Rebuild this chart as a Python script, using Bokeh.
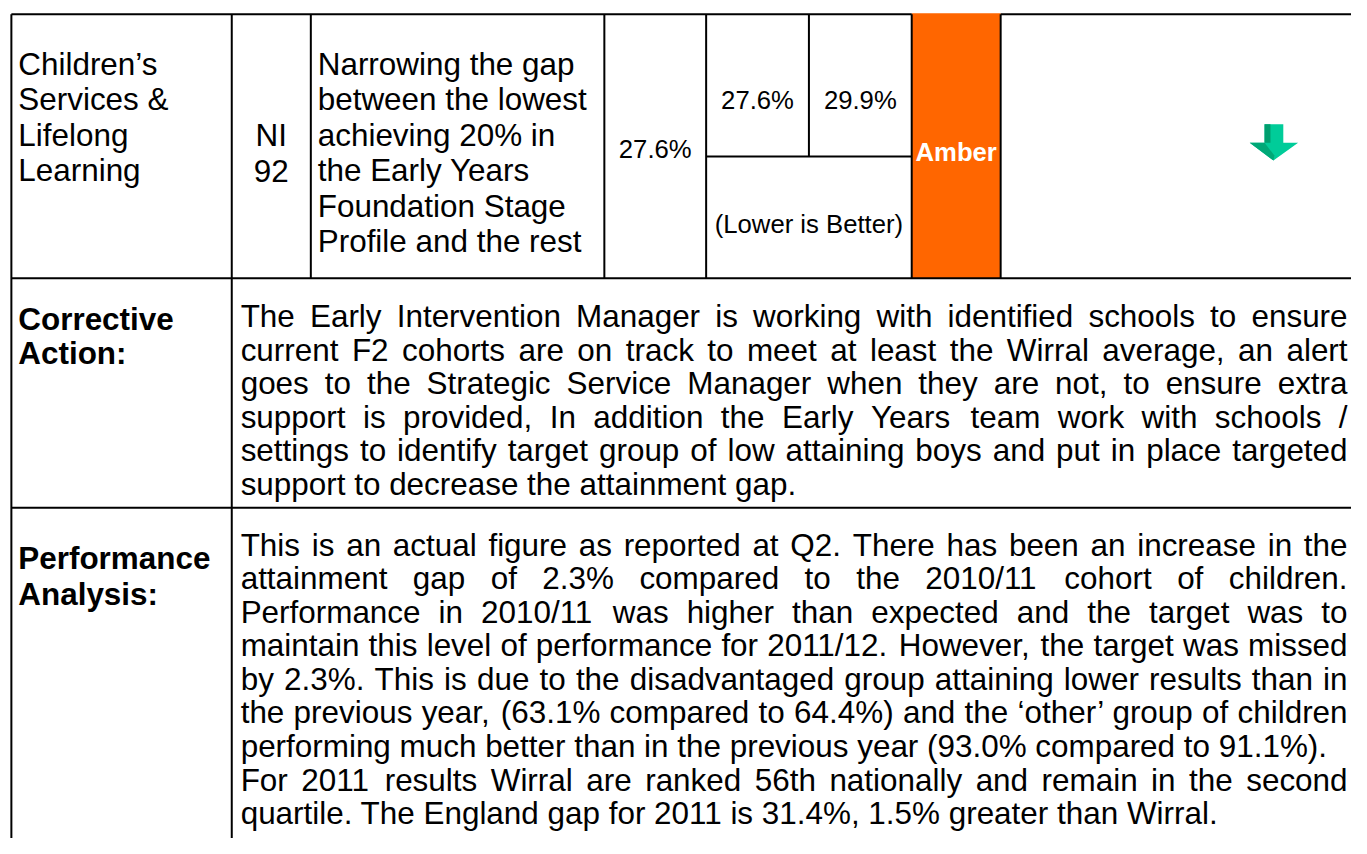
from bokeh.plotting import figure
from bokeh.models import ColumnDataSource, Range1d
from bokeh.core.properties import value
from bokeh.embed import file_html
from bokeh.resources import INLINE

# ---------------- data (table content) ----------------
service_lines = ["Children\u2019s", "Services &", "Lifelong", "Learning"]
indicator_lines = ["NI", "92"]
description_lines = ["Narrowing the gap", "between the lowest", "achieving 20% in",
                     "the Early Years", "Foundation Stage", "Profile and the rest"]
actual_value = "27.6%"
target_value = "27.6%"
previous_value = "29.9%"
polarity_text = "(Lower is Better)"
status_text = "Amber"

corrective_label = ["Corrective", "Action:"]
corrective_lines = [
    "The Early Intervention Manager is working with identified schools to ensure",
    "current F2 cohorts are on track to meet at least the Wirral average, an alert",
    "goes to the Strategic Service Manager when they are not, to ensure extra",
    "support is provided, In addition the Early Years team work with schools /",
    "settings to identify target group of low attaining boys and put in place targeted",
    "support to decrease the attainment gap.",
]
corrective_justified = [True, True, True, True, True, False]

analysis_label = ["Performance", "Analysis:"]
analysis_lines = [
    "This is an actual figure as reported at Q2. There has been an increase in the",
    "attainment gap of 2.3% compared to the 2010/11 cohort of children.",
    "Performance in 2010/11 was higher than expected and the target was to",
    "maintain this level of performance for 2011/12. However, the target was missed",
    "by 2.3%. This is due to the disadvantaged group attaining lower results than in",
    "the previous year, (63.1% compared to 64.4%) and the \u2018other\u2019 group of children",
    "performing much better than in the previous year (93.0% compared to 91.1%).",
    "For 2011 results Wirral are ranked 56th nationally and remain in the second",
    "quartile. The England gap for 2011 is 31.4%, 1.5% greater than Wirral.",
]
analysis_justified = [True, True, True, True, True, True, False, True, False]

# ---------------- layout (reference pixel geometry) ----------------
REF_W, REF_H = 1367, 854
W, H = 1351, 838
SX = W / REF_W          # screen px per layout unit

L = 11          # left border
C1 = 234        # after service column
C2 = 314        # after NI column
C3 = 611        # after description
C4 = 714        # after actual
C5 = 818        # target / previous split
C6 = 922        # start amber
C7 = 1012       # end amber
RIGHT = REF_W
T = 14
MID = 159
R1 = 283
R2 = 517
BOTTOM = REF_H

FONT = "Liberation Sans"
FS = 31.8               # body font size in layout units
NFS = 26                # value cells (the original uses a condensed face)


def px(size):
    return f"{size * SX:.2f}px"


# Arial / Liberation Sans advance widths (per 1000 em)
ADV = {' ': 278, ',': 278, '.': 278, '/': 278, '%': 889, '(': 333, ')': 333, ':': 278,
       '\u2018': 222, '\u2019': 222, '&': 667, '-': 333,
       '0': 556, '1': 556, '2': 556, '3': 556, '4': 556, '5': 556, '6': 556, '7': 556, '8': 556, '9': 556}
ADV.update(dict(zip("ABCDEFGHIJKLMNOPQRSTUVWXYZ",
                    [667, 667, 722, 722, 667, 611, 778, 722, 278, 500, 667, 556, 833, 722, 778,
                     667, 778, 722, 667, 611, 722, 667, 944, 667, 667, 611])))
ADV.update(dict(zip("abcdefghijklmnopqrstuvwxyz",
                    [556, 556, 500, 556, 556, 278, 556, 556, 222, 222, 500, 222, 833, 556, 556,
                     556, 556, 333, 500, 278, 556, 500, 722, 500, 500, 500])))


def tw(s, size):
    return sum(ADV.get(c, 556) for c in s) * size / 1000.0


def layout_para(lines, flags, x_left, x_right, y_first, step, size):
    xs, ys, ts = [], [], []
    for i, (line, just) in enumerate(zip(lines, flags)):
        y = y_first + i * step
        words = line.split(" ")
        if just and len(words) > 1:
            total = sum(tw(w, size) for w in words)
            gap = (x_right - x_left - total) / (len(words) - 1)
            x = x_left
            for w in words:
                xs.append(x); ys.append(y); ts.append(w)
                x += tw(w, size) + gap
        else:
            xs.append(x_left); ys.append(y); ts.append(line)
    return xs, ys, ts


p = figure(width=W, height=H, output_backend="svg", toolbar_location=None,
           x_range=Range1d(0, REF_W), y_range=Range1d(REF_H, 0),
           x_axis_location=None, y_axis_location=None, min_border=0,
           outline_line_color=None, background_fill_color="white",
           border_fill_color="white")
p.grid.visible = False

# amber status cell
p.quad(left=[C6], right=[C7], top=[T - 1], bottom=[R1], fill_color="#FF6600", line_color=None)

# table rules
seg = dict(
    x0=[L, L, C1, C2, C3, C4, C5, C6, C7, C4, L, L, C7],
    y0=[T, T, T, T, T, T, T, T, T, MID, R1, R2, T],
    x1=[C6, L, C1, C2, C3, C4, C5, C6, C7, C6, RIGHT, RIGHT, RIGHT],
    y1=[T, BOTTOM, BOTTOM, R1, R1, R1, MID, R1, R1, MID, R1, R2, T],
)
p.segment(x0="x0", y0="y0", x1="x1", y1="y1", source=ColumnDataSource(seg),
          line_color="black", line_width=2)

# top row texts
row1_y0, row1_step = 65, 36.2
p.text(x=[L + 7] * len(service_lines), y=[row1_y0 + i * row1_step for i in range(len(service_lines))],
       text=service_lines, text_font=value(FONT), text_font_size=value(px(FS)),
       text_baseline="alphabetic", text_align="left", text_color="black")
p.text(x=[(C1 + C2) / 2] * 2, y=[row1_y0 + 2 * row1_step, row1_y0 + 3 * row1_step],
       text=indicator_lines, text_font=value(FONT), text_font_size=value(px(FS)),
       text_baseline="alphabetic", text_align="center", text_color="black")
p.text(x=[C2 + 7] * len(description_lines),
       y=[row1_y0 + i * row1_step for i in range(len(description_lines))],
       text=description_lines, text_font=value(FONT), text_font_size=value(px(FS)),
       text_baseline="alphabetic", text_align="left", text_color="black")

p.text(x=[(C3 + C4) / 2, (C4 + C5) / 2, (C5 + C6) / 2, (C4 + C6) / 2],
       y=[151, 101, 101, 228],
       text=[actual_value, target_value, previous_value, polarity_text],
       text_font=value(FONT), text_font_size=value(px(NFS)),
       text_baseline="alphabetic", text_align="center", text_color="black")
p.text(x=[(C6 + C7) / 2], y=[154], text=[status_text], text_font=value(FONT),
       text_font_size=value(px(NFS)), text_font_style="bold",
       text_baseline="alphabetic", text_align="center", text_color="white")

# trend arrow (down, green)
ax, at = 1288, 126
p.patch(x=[ax - 9, ax + 10, ax + 10, ax + 25, ax, ax - 24, ax - 9],
        y=[at, at, at + 19, at + 19, at + 37, at + 19, at + 19],
        fill_color="#00CC99", line_color=None)
p.patch(x=[ax - 9, ax - 3, ax - 3, ax - 9], y=[at, at, at + 19, at + 19],
        fill_color="#009E6E", line_color=None)
p.patch(x=[ax - 24, ax - 9, ax + 1, ax], y=[at + 19, at + 19, at + 32, at + 37],
        fill_color="#00A877", line_color=None)

# row labels
p.text(x=[L + 7] * 2, y=[325, 360], text=corrective_label, text_font=value(FONT),
       text_font_size=value(px(FS)), text_font_style="bold",
       text_baseline="alphabetic", text_align="left", text_color="black")
p.text(x=[L + 7] * 2, y=[569, 605], text=analysis_label, text_font=value(FONT),
       text_font_size=value(px(FS)), text_font_style="bold",
       text_baseline="alphabetic", text_align="left", text_color="black")

# justified paragraphs
TX0, TX1 = 243, 1363
xs1, ys1, ts1 = layout_para(corrective_lines, corrective_justified, TX0, TX1, 322, 34.2, FS)
xs2, ys2, ts2 = layout_para(analysis_lines, analysis_justified, TX0, TX1, 555, 34.2, FS)
body = ColumnDataSource(dict(x=xs1 + xs2, y=ys1 + ys2, text=ts1 + ts2))
p.text(x="x", y="y", text="text", source=body, text_font=value(FONT),
       text_font_size=value(px(FS)), text_baseline="alphabetic", text_align="left",
       text_color="black")

open("out.html", "w").write(file_html(p, INLINE))
